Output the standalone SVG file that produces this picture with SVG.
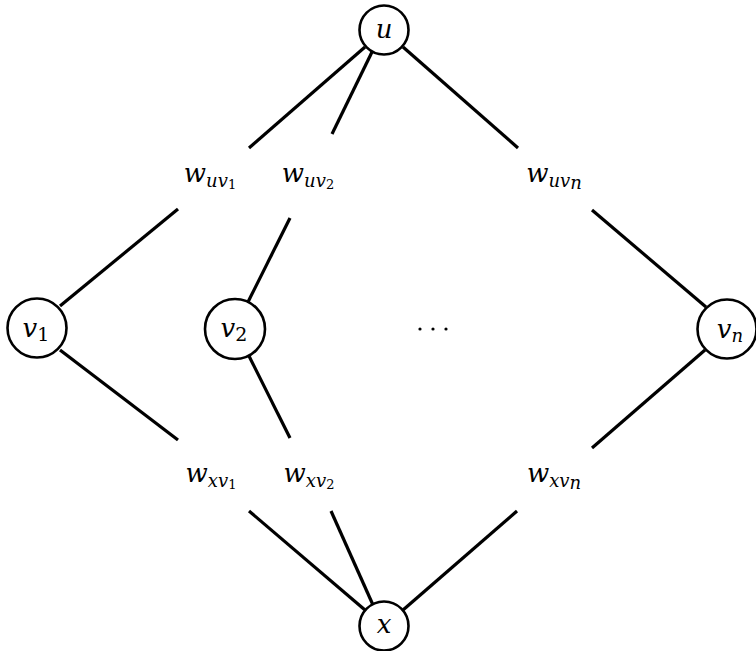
<svg xmlns="http://www.w3.org/2000/svg" width="756" height="651" viewBox="0 0 756 651">
<style>
.node{fill:#fff;stroke:#000;stroke-width:2.6}
.edge{stroke:#000;stroke-width:3.2;stroke-linecap:butt;fill:none}
text{font-family:"DejaVu Serif","Liberation Serif",serif;font-style:italic;font-size:26px;fill:#000;text-anchor:middle}
.sub{font-size:18px}
.subsub{font-size:13px;font-style:normal}
.num{font-size:19px;font-style:normal}
</style>
<rect width="756" height="651" fill="#fff"/>
<g id="connectors">
<line class="edge" x1="365" y1="47" x2="249" y2="148"/>
<line class="edge" x1="372" y1="52" x2="332" y2="134"/>
<line class="edge" x1="403" y1="47" x2="518" y2="148"/>
<line class="edge" x1="178" y1="209" x2="60" y2="306"/>
<line class="edge" x1="290" y1="218" x2="248" y2="302"/>
<line class="edge" x1="592" y1="210" x2="706" y2="307"/>
<line class="edge" x1="60" y1="350" x2="178" y2="440"/>
<line class="edge" x1="248" y1="354" x2="290" y2="438"/>
<line class="edge" x1="705" y1="350" x2="592" y2="448"/>
<line class="edge" x1="249" y1="511" x2="365" y2="610"/>
<line class="edge" x1="331" y1="511" x2="373" y2="605"/>
<line class="edge" x1="517" y1="511" x2="403" y2="610"/>
</g>
<g id="node-u"><circle class="node" cx="384" cy="30" r="24.5"/><text x="384" y="38">u</text></g>
<g id="node-x"><circle class="node" cx="384" cy="626" r="24.5"/><text x="384" y="633">x</text></g>
<g id="node-v1"><circle class="node" cx="37" cy="328" r="29.5"/><text x="36" y="337">v<tspan class="num" dy="4">1</tspan></text></g>
<g id="node-v2"><circle class="node" cx="235" cy="329" r="30"/><text x="234" y="337">v<tspan class="num" dy="4">2</tspan></text></g>
<g id="node-vn"><circle class="node" cx="727" cy="329" r="29.5"/><text x="730" y="338">v<tspan class="sub" dy="4">n</tspan></text></g>
<g id="label-wuv1"><text x="210" y="182">w<tspan class="sub" dy="5">uv</tspan><tspan class="subsub" dy="2">1</tspan></text></g>
<g id="label-wuv2"><text x="308" y="182">w<tspan class="sub" dy="5">uv</tspan><tspan class="subsub" dy="2">2</tspan></text></g>
<g id="label-wuvn"><text x="554" y="182">w<tspan class="sub" dy="5">uv</tspan><tspan class="sub" font-size="13" dy="2">n</tspan></text></g>
<g id="label-wxv1"><text x="211" y="482">w<tspan class="sub" dy="5">xv</tspan><tspan class="subsub" dy="2">1</tspan></text></g>
<g id="label-wxv2"><text x="309" y="482">w<tspan class="sub" dy="5">xv</tspan><tspan class="subsub" dy="2">2</tspan></text></g>
<g id="label-wxvn"><text x="554" y="482">w<tspan class="sub" dy="5">xv</tspan><tspan class="sub" font-size="13" dy="2">n</tspan></text></g>
<g id="dots"><circle cx="420" cy="329" r="1.6"/><circle cx="433" cy="329" r="1.6"/><circle cx="446" cy="329" r="1.6"/></g>
</svg>
